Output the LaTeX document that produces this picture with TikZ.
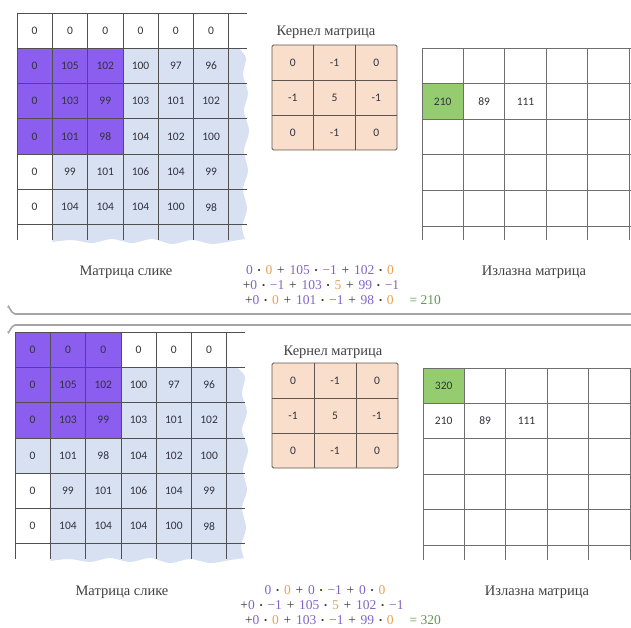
\documentclass[tikz,border=0pt]{standalone}
\usepackage{fontspec}
\setmainfont{Liberation Serif}
\newfontfamily\cellfont{Carlito}
\newfontfamily\lblfont{Liberation Serif}
\definecolor{purp}{RGB}{140,94,240}
\definecolor{lblue}{RGB}{216,225,242}
\definecolor{peach}{RGB}{250,222,204}
\definecolor{kline}{RGB}{95,85,80}
\definecolor{grn}{RGB}{150,204,112}
\definecolor{gline}{RGB}{80,80,80}
\definecolor{oline}{RGB}{110,110,110}
\definecolor{fpurp}{RGB}{130,100,200}
\definecolor{forange}{RGB}{232,162,82}
\definecolor{fgreen}{RGB}{100,150,80}
\definecolor{fop}{RGB}{60,60,60}
\definecolor{sepc}{RGB}{165,165,165}
\definecolor{ctext}{RGB}{50,50,60}
\definecolor{ltext}{RGB}{65,65,65}
\newcommand{\pp}[1]{\textcolor{fpurp}{#1}}
\newcommand{\oo}[1]{\textcolor{forange}{#1}}
\newcommand{\bop}[1]{\hspace{4.8pt}\textcolor{fop}{#1}\hspace{4.8pt}}
\newcommand{\md}{\bop{\raisebox{1pt}{\fontsize{9}{9}\selectfont •}}}
\tikzset{
  celltxt/.style={font=\cellfont\fontsize{11.5}{13}\selectfont, text=ctext, inner sep=0pt},
  gridln/.style={draw=gline, line width=0.8pt},
  outln/.style={draw=oline, line width=0.8pt},
  lbl/.style={font=\lblfont\fontsize{14.5}{16}\selectfont, text=ltext, inner sep=0pt},
  frm/.style={font=\fontsize{13.5}{15}\selectfont, inner sep=0pt},
  sepln/.style={draw=sepc, line width=1.6pt, line cap=round}
}
\begin{document}
\begin{tikzpicture}[x=1pt,y=-1pt]
\useasboundingbox (0,0) rectangle (631,628);

% ---------- separators ----------
\draw[sepln] (8,307) to[out=90,in=180] (15,314) -- (631,314);
\draw[sepln] (8,332) to[out=-90,in=180] (15,325) -- (631,325);

% ========== TOP PANEL ==========
\begin{scope}[shift={(17,13)}]
  \fill[lblue] (0,35.3) -- plot[smooth] coordinates {(222,35.3) (229,45) (226,62) (231,80) (227,98) (232,118) (227,138) (231,158) (226,176) (230,196) (225,214) (228,226)}
     -- plot[smooth] coordinates {(215,228) (195,231) (175,227) (155,231) (135,226) (115,230) (95,226) (75,230) (55,227) (35.3,229)}
     -- (35.3,141.2) -- (0,141.2) -- cycle;
  \fill[purp] (0,35.3) rectangle (105.9,141.2);
  \foreach \k in {0,...,6} {
    \draw[gridln] ({\k*35.3},0) -- ({\k*35.3},227);
    \draw[gridln] (0,{\k*35.3}) -- (230,{\k*35.3});
  }
  \foreach \row [count=\r from 0] in {{0,0,0,0,0,0},{0,105,102,100,97,96},{0,103,99,103,101,102},{0,101,98,104,102,100},{0,99,101,106,104,99},{0,104,104,104,100,98}} {
    \foreach \v [count=\c from 0] in \row {
      \node[celltxt] (ia-\r-\c) at ({(\c+0.5)*35.3},{(\r+0.5)*35.3}) {\v};
    }
  }
\end{scope}

\node[lbl] (ka-title) at (326,32) {Кернел матрица};
\begin{scope}[shift={(272,45)}]
  \filldraw[fill=peach, draw=kline, line width=0.8pt, rounded corners=1.5pt] (0,0) rectangle (125,105);
  \draw[draw=kline, line width=0.9pt] (41.7,0) -- (41.7,105) (83.3,0) -- (83.3,105) (0,35) -- (125,35) (0,70) -- (125,70);
  \foreach \row [count=\r from 0] in {{0,-1,0},{-1,5,-1},{0,-1,0}} {
    \foreach \v [count=\c from 0] in \row {
      \node[celltxt] (ka-\r-\c) at ({(\c+0.5)*41.7},{(\r+0.5)*35}) {\v};
    }
  }
\end{scope}

\begin{scope}[shift={(422,48)}]
  \fill[grn] (0,35.6) rectangle (41.4,71.2);
  \foreach \k in {0,...,5} {
    \draw[outln] ({\k*41.4},0) -- ({\k*41.4},192);
    \draw[outln] (0,{\k*35.6}) -- (209,{\k*35.6});
  }
  \node[celltxt] (oa-1-0) at (20.7,53.4) {210};
  \node[celltxt] (oa-1-1) at (62.1,53.4) {89};
  \node[celltxt] (oa-1-2) at (103.5,53.4) {111};
\end{scope}

\node[lbl] (ia-label) at (126,272) {Матрица слике};
\node[lbl] (oa-label) at (534,272) {Излазна матрица};

\node[frm] (fa-1) at (320,270) {\pp{0}\md\oo{0}\bop{+}\pp{105}\md\pp{−1}\bop{+}\pp{102}\md\oo{0}};
\node[frm] (fa-2) at (321,285) {\textcolor{fop}{+}\pp{0}\md\pp{−1}\bop{+}\pp{103}\md\oo{5}\bop{+}\pp{99}\md\pp{−1}};
\node[frm] (fa-3) at (343,300) {\textcolor{fop}{+}\pp{0}\md\oo{0}\bop{+}\pp{101}\md\pp{−1}\bop{+}\pp{98}\md\oo{0}\hspace{16pt}\textcolor{fgreen}{= 210}};

% ========== BOTTOM PANEL ==========
\begin{scope}[shift={(15,332)}]
  \fill[lblue] (0,35.3) -- plot[smooth] coordinates {(222,35.3) (230,45) (227,62) (232,80) (227,98) (233,118) (228,138) (232,158) (227,176) (231,196) (226,214) (229,226)}
     -- plot[smooth] coordinates {(215,228) (195,231) (175,227) (155,231) (135,226) (115,230) (95,226) (75,230) (55,227) (35.3,229)}
     -- (35.3,141.2) -- (0,141.2) -- cycle;
  \fill[purp] (0,0) rectangle (105.9,105.9);
  \foreach \k in {0,...,6} {
    \draw[gridln] ({\k*35.3},0) -- ({\k*35.3},227);
    \draw[gridln] (0,{\k*35.3}) -- (230,{\k*35.3});
  }
  \foreach \row [count=\r from 0] in {{0,0,0,0,0,0},{0,105,102,100,97,96},{0,103,99,103,101,102},{0,101,98,104,102,100},{0,99,101,106,104,99},{0,104,104,104,100,98}} {
    \foreach \v [count=\c from 0] in \row {
      \node[celltxt] (ib-\r-\c) at ({(\c+0.5)*35.3},{(\r+0.5)*35.3}) {\v};
    }
  }
\end{scope}

\node[lbl] (kb-title) at (333,352) {Кернел матрица};
\begin{scope}[shift={(272,363)}]
  \filldraw[fill=peach, draw=kline, line width=0.8pt, rounded corners=1.5pt] (0,0) rectangle (126,105);
  \draw[draw=kline, line width=0.9pt] (42,0) -- (42,105) (84,0) -- (84,105) (0,35) -- (126,35) (0,70) -- (126,70);
  \foreach \row [count=\r from 0] in {{0,-1,0},{-1,5,-1},{0,-1,0}} {
    \foreach \v [count=\c from 0] in \row {
      \node[celltxt] (kb-\r-\c) at ({(\c+0.5)*42},{(\r+0.5)*35}) {\v};
    }
  }
\end{scope}

\begin{scope}[shift={(423,368)}]
  \fill[grn] (0,0) rectangle (41.4,35.4);
  \foreach \k in {0,...,5} {
    \draw[outln] ({\k*41.4},0) -- ({\k*41.4},192);
    \draw[outln] (0,{\k*35.4}) -- (208,{\k*35.4});
  }
  \node[celltxt] (ob-0-0) at (20.7,17.7) {320};
  \node[celltxt] (ob-1-0) at (20.7,53.1) {210};
  \node[celltxt] (ob-1-1) at (62.1,53.1) {89};
  \node[celltxt] (ob-1-2) at (103.5,53.1) {111};
\end{scope}

\node[lbl] (ib-label) at (122,592) {Матрица слике};
\node[lbl] (ob-label) at (537,592) {Излазна матрица};

\node[frm] (fb-1) at (325,590) {\pp{0}\md\oo{0}\bop{+}\pp{0}\md\pp{−1}\bop{+}\pp{0}\md\oo{0}};
\node[frm] (fb-2) at (322,605) {\textcolor{fop}{+}\pp{0}\md\pp{−1}\bop{+}\pp{105}\md\oo{5}\bop{+}\pp{102}\md\pp{−1}};
\node[frm] (fb-3) at (343,620) {\textcolor{fop}{+}\pp{0}\md\oo{0}\bop{+}\pp{103}\md\pp{−1}\bop{+}\pp{99}\md\oo{0}\hspace{16pt}\textcolor{fgreen}{= 320}};
\end{tikzpicture}
\end{document}
